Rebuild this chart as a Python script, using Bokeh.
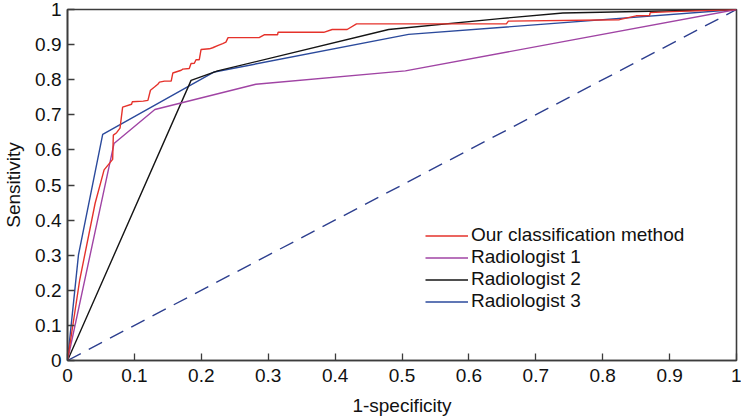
from bokeh.plotting import figure
from bokeh.models import Legend, LegendItem, FixedTicker, Range1d
from bokeh.embed import file_html
from bokeh.resources import INLINE

# ---- data ----
ours_fpr = [0, 0.0183, 0.0413, 0.0547, 0.0675, 0.0685, 0.0734, 0.0785, 0.0824, 0.0958,
            0.0968, 0.1132, 0.1202, 0.124, 0.130, 0.135, 0.1375, 0.145, 0.155, 0.1574,
            0.170, 0.1723, 0.182, 0.1847, 0.1896, 0.1921, 0.197, 0.1996, 0.212, 0.217,
            0.2253, 0.232, 0.2368, 0.240, 0.2864, 0.294, 0.314, 0.3147, 0.383, 0.3957,
            0.418, 0.432, 0.656, 0.659, 0.825, 0.850, 0.870, 0.871, 0.904, 1.0]
ours_tpr = [0, 0.230, 0.448, 0.543, 0.573, 0.642, 0.649, 0.662, 0.722, 0.730,
            0.737, 0.739, 0.741, 0.770, 0.779, 0.787, 0.793, 0.796, 0.796, 0.819,
            0.827, 0.830, 0.832, 0.846, 0.847, 0.857, 0.857, 0.886, 0.888, 0.891,
            0.898, 0.903, 0.907, 0.920, 0.920, 0.928, 0.928, 0.935, 0.935, 0.943,
            0.943, 0.959, 0.959, 0.967, 0.971, 0.982, 0.983, 0.991, 0.994, 1.0]

rad1_fpr = [0, 0.0695, 0.1306, 0.2815, 0.505, 1.0]
rad1_tpr = [0, 0.618, 0.715, 0.787, 0.825, 1.0]

rad2_fpr = [0, 0.1847, 0.2244, 0.48, 0.6463, 0.7405, 1.0]
rad2_tpr = [0, 0.798, 0.825, 0.943, 0.974, 0.990, 1.0]

rad3_fpr = [0, 0.0164, 0.0526, 0.2194, 0.5098, 1.0]
rad3_tpr = [0, 0.301, 0.644, 0.822, 0.929, 1.0]

chance_x = [0, 1]
chance_y = [0, 1]

tick_values = [0, 0.1, 0.2, 0.3, 0.4, 0.5, 0.6, 0.7, 0.8, 0.9, 1]
tick_labels = ["0", "0.1", "0.2", "0.3", "0.4", "0.5", "0.6", "0.7", "0.8", "0.9", "1"]

series_names = ["Our classification method", "Radiologist 1", "Radiologist 2", "Radiologist 3"]

FONT = "Liberation Sans"

p = figure(width=741, height=418, output_backend="svg", toolbar_location=None,
           x_range=Range1d(0, 1), y_range=Range1d(0, 1),
           min_border_left=66, min_border_right=5, min_border_top=9, min_border_bottom=57)

p.background_fill_color = "white"
p.border_fill_color = "white"
p.outline_line_color = "#3c3c3c"
p.outline_line_width = 1.6
p.xgrid.visible = False
p.ygrid.visible = False

overrides = {v: l for v, l in zip(tick_values, tick_labels)}
for ax in (p.xaxis[0], p.yaxis[0]):
    ax.ticker = FixedTicker(ticks=tick_values)
    ax.major_label_overrides = overrides
    ax.major_tick_in = 7
    ax.major_tick_out = 0
    ax.minor_tick_line_color = None
    ax.axis_line_color = "#3c3c3c"
    ax.axis_line_width = 1.6
    ax.major_tick_line_color = "#3c3c3c"
    ax.major_tick_line_width = 1.3
    ax.major_label_text_font = FONT
    ax.major_label_text_font_size = "19px"
    ax.major_label_text_color = "#111111"
    ax.axis_label_text_font = FONT
    ax.axis_label_text_font_size = "19px"
    ax.axis_label_text_font_style = "normal"
    ax.axis_label_text_color = "#111111"

p.xaxis.axis_label = "1-specificity"
p.yaxis.axis_label = "Sensitivity"
p.xaxis.major_label_standoff = 8
p.yaxis.major_label_standoff = 6
p.xaxis.axis_label_standoff = 10
p.yaxis.axis_label_standoff = 8

p.line(chance_x, chance_y, line_color="#2d3f8f", line_width=1.4, line_dash="15 9")
r3 = p.line(rad3_fpr, rad3_tpr, line_color="#2b4a9c", line_width=1.4)
r2 = p.line(rad2_fpr, rad2_tpr, line_color="#151515", line_width=1.4)
r1 = p.line(rad1_fpr, rad1_tpr, line_color="#a044a4", line_width=1.4)
r0 = p.line(ours_fpr, ours_tpr, line_color="#e5322b", line_width=1.4)

legend = Legend(items=[LegendItem(label=series_names[0], renderers=[r0]),
                       LegendItem(label=series_names[1], renderers=[r1]),
                       LegendItem(label=series_names[2], renderers=[r2]),
                       LegendItem(label=series_names[3], renderers=[r3])],
                location=(358, 48), padding=0, margin=0, spacing=-4,
                label_height=19, glyph_height=19, glyph_width=43, label_standoff=3,
                label_text_font=FONT, label_text_font_size="19px", label_text_color="#111111",
                border_line_alpha=0, background_fill_alpha=0)
p.add_layout(legend, "center")

open("out.html", "w").write(file_html(p, INLINE))
